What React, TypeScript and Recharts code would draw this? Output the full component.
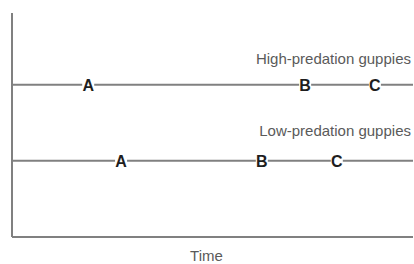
import React from "react";
import { ComposedChart, Line, Scatter, XAxis, YAxis } from "recharts";

const groups = ["High-predation guppies", "Low-predation guppies"];
const groupLevels = [68, 34];
const groupLabelLevels = [79.5, 47.5];
const labelX = 99.5;
const lineStart = 0;
const lineEnd = 100;
const stageNames = ["A", "B", "C"];
const highStages = [19, 73.1, 90.5];
const lowStages = [27.2, 62.3, 81];
const xTitle = "Time";

const highLine = [
  { x: lineStart, y: groupLevels[0] },
  { x: lineEnd, y: groupLevels[0] },
];
const lowLine = [
  { x: lineStart, y: groupLevels[1] },
  { x: lineEnd, y: groupLevels[1] },
];
const stagePoints = [
  ...stageNames.map((s, i) => ({ x: highStages[i], y: groupLevels[0], t: s })),
  ...stageNames.map((s, i) => ({ x: lowStages[i], y: groupLevels[1], t: s })),
];
const groupLabels = groups.map((g, i) => ({ x: labelX, y: groupLabelLevels[i], t: g }));

const FONT = "Liberation Sans, Arial, sans-serif";

const Letter = (props: any) => {
  const { cx, cy, payload } = props;
  return (
    <g>
      <rect x={cx - 6} y={cy - 7} width={12} height={14} fill="#fff" />
      <text
        x={cx}
        y={cy + 1}
        textAnchor="middle"
        dominantBaseline="central"
        fontFamily={FONT}
        fontWeight="bold"
        fontSize={16}
        fill="#1e1e1e"
      >
        {payload.t}
      </text>
    </g>
  );
};

const GroupLabel = (props: any) => {
  const { cx, cy, payload } = props;
  return (
    <text
      x={cx}
      y={cy}
      textAnchor="end"
      dominantBaseline="central"
      fontFamily={FONT}
      fontSize={15}
      fill="#5a5a5a"
    >
      {payload.t}
    </text>
  );
};

export default function App() {
  return (
    <div style={{ position: "absolute", left: 0, top: 0, background: "#fff" }}>
      <ComposedChart
        width={414}
        height={264}
        margin={{ top: 13, right: 1, left: 0, bottom: 0 }}
      >
        <XAxis
          type="number"
          dataKey="x"
          domain={[0, 100]}
          tick={false}
          tickLine={false}
          height={27}
          axisLine={{ stroke: "#808080", strokeWidth: 2 }}
          label={{
            value: xTitle,
            position: "insideBottom",
            offset: 3,
            dx: -6,
            fontSize: 15,
            fill: "#5a5a5a",
            fontFamily: FONT,
          }}
        />
        <YAxis
          type="number"
          dataKey="y"
          domain={[0, 100]}
          tick={false}
          tickLine={false}
          width={12}
          axisLine={{ stroke: "#808080", strokeWidth: 2 }}
        />
        <Line
          data={highLine}
          dataKey="y"
          stroke="#808080"
          strokeWidth={2}
          dot={false}
          isAnimationActive={false}
        />
        <Line
          data={lowLine}
          dataKey="y"
          stroke="#808080"
          strokeWidth={2}
          dot={false}
          isAnimationActive={false}
        />
        <Scatter data={stagePoints} shape={Letter} isAnimationActive={false} />
        <Scatter data={groupLabels} shape={GroupLabel} isAnimationActive={false} />
      </ComposedChart>
    </div>
  );
}
